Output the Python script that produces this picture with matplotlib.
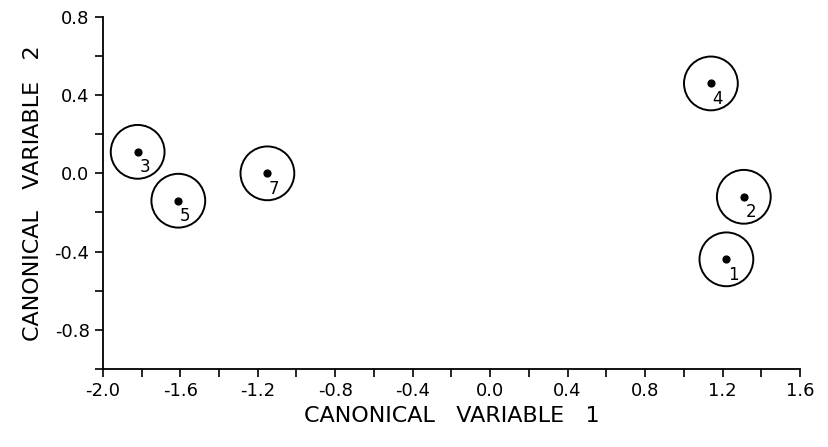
import numpy as np
import matplotlib
matplotlib.use("Agg")
from matplotlib import pyplot as plt

# group centroids
groups = ["1", "2", "3", "4", "5", "7"]
cv1 = [1.22, 1.31, -1.82, 1.14, -1.61, -1.15]
cv2 = [-0.44, -0.12, 0.11, 0.46, -0.14, 0.0]

x_ticks = np.round(np.arange(-2.0, 1.61, 0.4), 1)
y_ticks = np.round(np.arange(-0.8, 0.81, 0.4), 1)

def fmt(v):
    return f"{abs(v):.1f}" if abs(v) < 1e-9 else f"{v:.1f}"

plt.rcParams['font.family'] = ['DejaVu Sans']

fig = plt.figure(figsize=(8.29, 4.47), dpi=100)
ax = fig.add_axes([0.124, 0.175, 0.841, 0.787])

# circles around each centroid, then the centroid dot
ax.scatter(cv1, cv2, s=1500, facecolors="none", edgecolors="black", linewidths=1.4)
ax.scatter(cv1, cv2, s=24, color="black")
for g, x, y in zip(groups, cv1, cv2):
    ax.annotate(g, (x, y), xytext=(5, -11), textcoords="offset points",
                ha="center", va="center", fontsize=12)

ax.set_xlim(-2.0, 1.6)
ax.set_ylim(-1.0, 0.8)
ax.set_xticks(x_ticks)
ax.set_xticklabels([fmt(v) for v in x_ticks])
ax.set_xticks(np.arange(-1.8, 1.6, 0.4), minor=True)
ax.set_yticks(y_ticks)
ax.set_yticklabels([fmt(v) for v in y_ticks])
ax.set_yticks(np.arange(-1.0, 0.8, 0.4), minor=True)

ax.spines["top"].set_visible(False)
ax.spines["right"].set_visible(False)
for s in ["left", "bottom"]:
    ax.spines[s].set_linewidth(1.3)
ax.tick_params(which="both", direction="out", length=6, width=1.2, labelsize=13)

ax.set_xlabel("CANONICAL   VARIABLE   1", fontsize=16, labelpad=4)
ax.set_ylabel("CANONICAL   VARIABLE   2", fontsize=16, labelpad=8)

fig.savefig("out.png", dpi=100)
